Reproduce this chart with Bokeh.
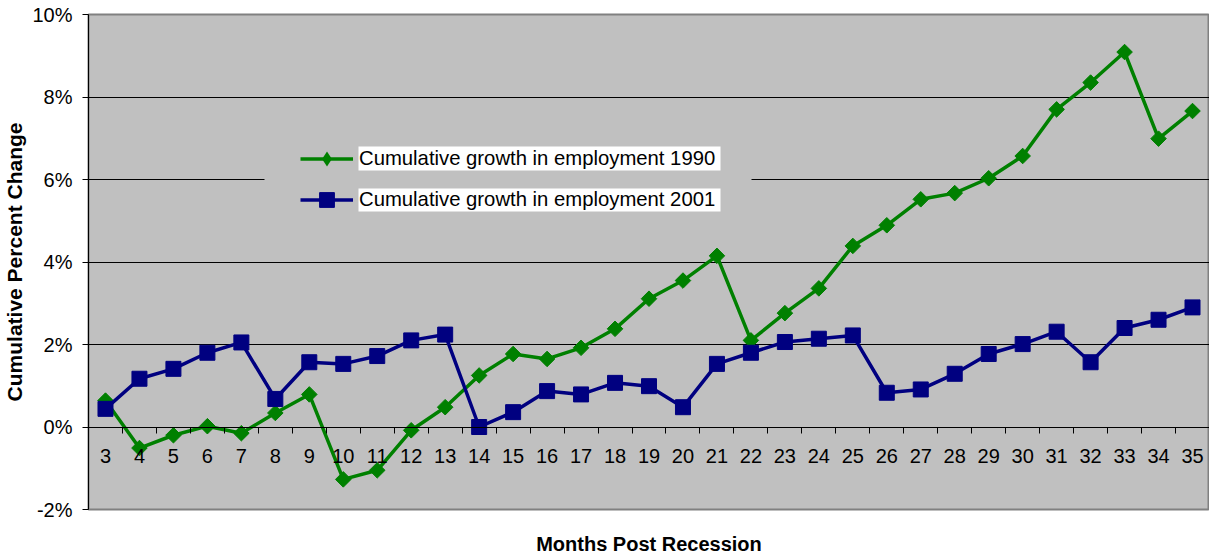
import numpy as np
from bokeh.plotting import figure
from bokeh.models import (Range1d, LinearAxis, FixedTicker, PrintfTickFormatter, Legend,
                          LegendItem, BoxAnnotation, ColumnDataSource)
from bokeh.embed import file_html
from bokeh.resources import INLINE

# ---- data ----
months = list(range(3, 36))
growth_1990 = [0.64, -0.51, -0.20, 0.02, -0.15, 0.34, 0.79, -1.27, -1.05, -0.08, 0.48,
               1.25, 1.77, 1.65, 1.92, 2.38, 3.11, 3.55, 4.15, 2.10, 2.76, 3.36, 4.39,
               4.89, 5.52, 5.67, 6.03, 6.57, 7.70, 8.35, 9.09, 6.99, 7.66]
growth_2001 = [0.44, 1.17, 1.41, 1.80, 2.05, 0.68, 1.57, 1.53, 1.72, 2.10, 2.24,
               0.00, 0.36, 0.87, 0.79, 1.07, 0.99, 0.48, 1.53, 1.80, 2.06, 2.14, 2.22,
               0.83, 0.91, 1.29, 1.77, 2.01, 2.31, 1.57, 2.40, 2.60, 2.90]
y_ticks = [-2, 0, 2, 4, 6, 8, 10]
label_1990 = "Cumulative growth in employment 1990"
label_2001 = "Cumulative growth in employment 2001"
x_title = "Months Post Recession"
y_title = "Cumulative Percent Change"

FONT = "Liberation Sans"
GREEN = "#008000"
NAVY = "#000080"
PLOT_BG = "#C0C0C0"

p = figure(width=1209, height=557, x_range=Range1d(months[0] - 0.5, months[-1] + 0.5),
           y_range=Range1d(y_ticks[0], y_ticks[-1]), output_backend="svg",
           toolbar_location=None, x_axis_location=None, y_axis_location="left")
p.min_border_left = 86
p.min_border_right = 0
p.min_border_top = 14
p.min_border_bottom = 47
p.background_fill_color = PLOT_BG
p.border_fill_color = "white"
p.outline_line_color = "#808080"
p.outline_line_width = 2

# y axis
yt = FixedTicker(ticks=y_ticks, minor_ticks=[])
ya = p.yaxis[0]
ya.ticker = yt
ya.formatter = PrintfTickFormatter(format="%d%%")
ya.major_tick_out = 6
ya.major_tick_in = 0
ya.minor_tick_out = 0
ya.minor_tick_in = 0
ya.axis_line_color = "black"
ya.major_tick_line_color = "black"
ya.major_label_text_font = FONT
ya.major_label_text_font_size = "20px"
ya.major_label_text_color = "black"
ya.major_label_standoff = 10
ya.axis_label = y_title
ya.axis_label_text_font = FONT
ya.axis_label_text_font_style = "bold"
ya.axis_label_text_font_size = "21px"
ya.axis_label_text_color = "black"
ya.axis_label_standoff = 3

p.ygrid.ticker = yt
p.ygrid.grid_line_color = "black"
p.ygrid.grid_line_width = 1
p.xgrid.visible = False

# x category axis sitting on the 0% line
xa = LinearAxis(ticker=FixedTicker(ticks=months, minor_ticks=[m + 0.5 for m in months[:-1]]),
                fixed_location=0)
xa.major_tick_out = 0
xa.major_tick_in = 0
xa.minor_tick_out = 6
xa.minor_tick_in = 0
xa.minor_tick_line_color = "black"
xa.axis_line_color = "black"
xa.major_label_text_font = FONT
xa.major_label_text_font_size = "20px"
xa.major_label_text_color = "black"
xa.major_label_standoff = 16
p.add_layout(xa, "below")

# x title axis
ta = LinearAxis(ticker=FixedTicker(ticks=[], minor_ticks=[]), axis_label=x_title)
ta.axis_line_color = None
ta.major_tick_out = 0
ta.minor_tick_out = 0
ta.major_label_standoff = 0
ta.axis_label_standoff = 23
ta.axis_label_text_font = FONT
ta.axis_label_text_font_style = "bold"
ta.axis_label_text_font_size = "20px"
ta.axis_label_text_color = "black"
p.add_layout(ta, "below")

# legend backdrop (hides gridline) and white label boxes
scr = dict(left_units="screen", right_units="screen", top_units="screen", bottom_units="screen",
           line_color=None, fill_alpha=1, level="underlay")
p.add_layout(BoxAnnotation(left=176, right=663, bottom=287, top=373, fill_color=PLOT_BG, **scr))
p.add_layout(BoxAnnotation(left=270, right=632, bottom=339, top=363, fill_color="white", **scr))
p.add_layout(BoxAnnotation(left=270, right=632, bottom=298, top=321, fill_color="white", **scr))

# series
src90 = ColumnDataSource(dict(x=months, y=growth_1990))
src01 = ColumnDataSource(dict(x=months, y=growth_2001))
g_line = p.line("x", "y", source=src90, line_color=GREEN, line_width=3.5)
g_pts = p.scatter("x", "y", source=src90, marker="square", angle=np.pi / 4, size=11,
                  fill_color=GREEN, line_color=GREEN, line_width=1)
# diamond used only for the legend swatch (zero size in the plot)
g_leg = p.scatter("x", "y", source=src90, marker="diamond", size=0, fill_color=GREEN,
                  line_color=None)
b_line = p.line("x", "y", source=src01, line_color=NAVY, line_width=3.5)
b_pts = p.scatter("x", "y", source=src01, marker="square", size=15,
                  fill_color=NAVY, line_color=NAVY, line_width=1)

legend = Legend(items=[LegendItem(label=label_1990, renderers=[g_line, g_leg]),
                       LegendItem(label=label_2001, renderers=[b_line, b_pts])],
                location=(212, 291), orientation="vertical", padding=0, spacing=4,
                glyph_width=53, glyph_height=37, label_standoff=6, margin=0,
                background_fill_alpha=0, border_line_color=None,
                label_text_font=FONT, label_text_font_size="20.3px", label_text_color="black")
p.add_layout(legend)

open("out.html", "w").write(file_html(p, INLINE))
